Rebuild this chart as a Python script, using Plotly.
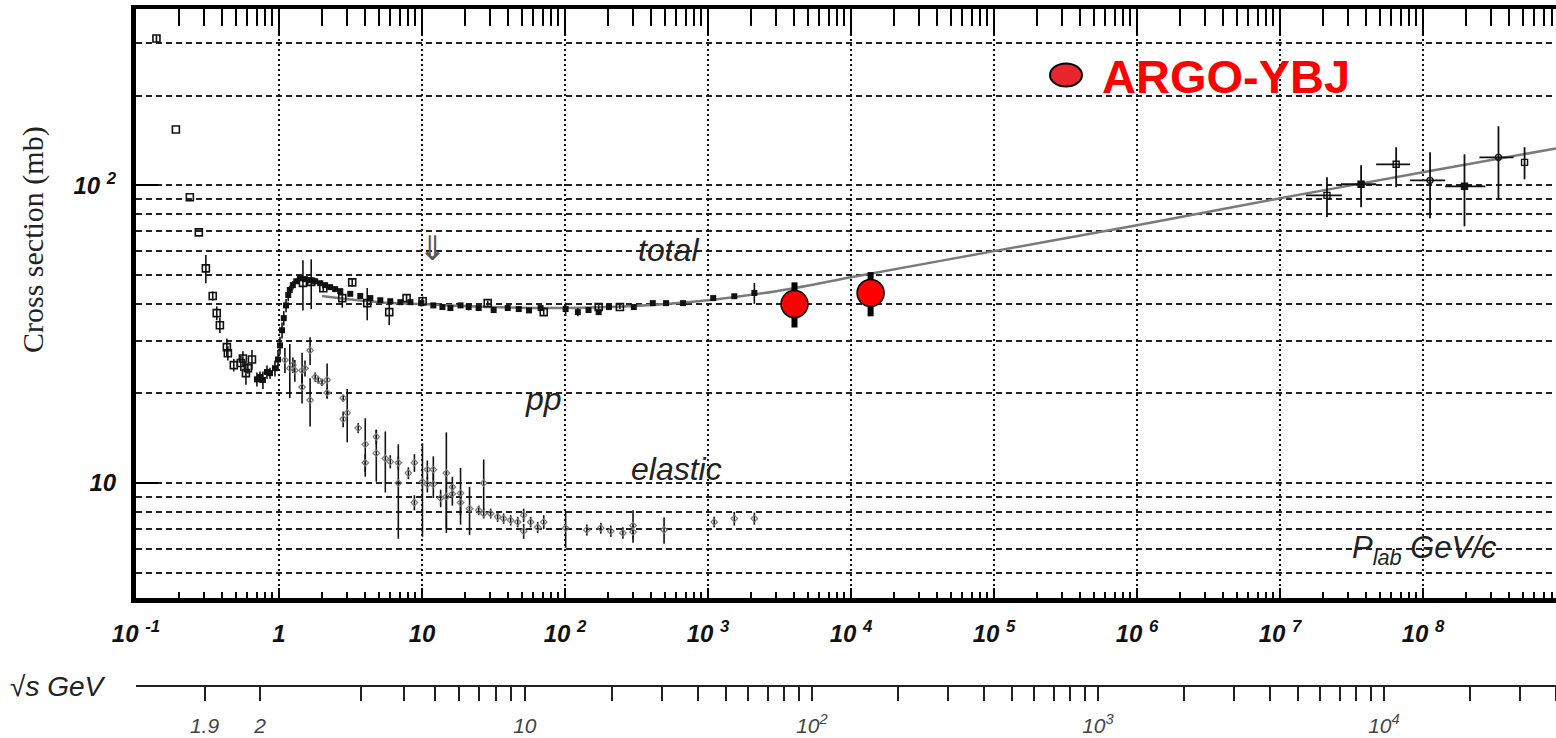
import math
import plotly.graph_objects as go

# ---------------- data ----------------
# total pp cross section (mb) vs p_lab (GeV/c) - open squares
tot_open_p = [0.139, 0.19, 0.238, 0.275, 0.308, 0.344, 0.367, 0.386, 0.432, 0.439, 0.483, 0.541, 0.559, 0.587, 0.606, 0.647,
              1.47, 1.68, 2.04, 2.77, 3.25, 4.14, 5.9, 7.8, 10.1, 28.8, 71.0, 172, 242]
tot_open_sig = [311, 154, 91.2, 69.5, 52.6, 42.5, 37.2, 33.9, 28.6, 27.3, 24.9, 25.3, 26.2, 23.4, 24.3, 26.0,
                47.0, 47.4, 45.1, 41.8, 47.2, 40.2, 37.5, 41.8, 40.8, 40.2, 37.5, 39.0, 39.0]
tot_open_err = [8, 0, 0, 0, 5.7, 1.5, 2, 2, 2, 1.5, 1.2, 1.5, 1.5, 2, 1, 2,
                9, 9, 1, 3, 1.5, 5, 3.6, 1, 1.5, 0.8, 0.8, 0.6, 0.6]

# total pp cross section - filled markers (dense band)
tot_p = [0.701, 0.736, 0.772, 0.824, 0.865, 0.937, 0.984, 1.016, 1.05, 1.08, 1.12, 1.16, 1.19, 1.25, 1.32, 1.40,
         1.52, 1.65, 1.79, 1.94, 2.10, 2.28, 2.47, 2.68, 3.15, 3.70, 4.35, 5.11, 6.0, 7.06, 8.3, 9.9,
         12.0, 13.9, 15.8, 18.6, 21.2, 24.9, 31.7, 39.8, 47.5, 56.0, 67.5, 101, 123, 146, 172, 203,
         303, 411, 509, 669, 1088, 1527, 2109]
tot_sig = [22.3, 22.7, 22.2, 23.6, 23.4, 24.3, 26.0, 29.0, 32.6, 35.8, 39.5, 42.8, 44.5, 46.2, 47.6, 48.7,
           48.4, 48.0, 47.6, 46.9, 46.2, 45.5, 44.8, 44.1, 43.2, 42.5, 41.8, 41.1, 40.8, 40.5, 40.5, 40.2,
           39.5, 39.0, 38.7, 39.5, 39.0, 38.7, 38.1, 38.7, 38.4, 38.0, 38.7, 38.4, 37.5, 38.1, 37.5, 39.0,
           39.0, 40.2, 40.2, 40.2, 41.8, 42.4, 43.5]
tot_err = [1.2, 1.0, 1.5, 1.2, 1.0, 1.5, 2.0, 2.0, 2.0, 2.0, 2.0, 2.0, 1.5, 1.5, 1.0, 1.0,
           1.0, 1.0, 0.8, 0.8, 0.8, 0.8, 0.8, 0.8, 0.6, 0.6, 0.6, 0.6, 0.6, 0.5, 0.5, 1.0,
           0.8, 0.8, 0.5, 0.8, 1.0, 0.5, 0.5, 0.5, 0.5, 0.5, 0.4, 2.0, 1.2, 0.8, 0.6, 0.6,
           0.5, 0.5, 0.5, 0.5, 0.6, 0.6, 3.5]

# fitted curve of the total cross section
fit_p = [2, 5, 10, 30, 100, 300, 1000, 3000, 1e4, 1e5, 1e6, 1e7, 1e8, 8.5e8]
fit_sig = [42.5, 40.5, 39.9, 39.0, 38.7, 39.3, 41.1, 44.1, 49.1, 60.1, 73.4, 90.4, 110.6, 133]

# cosmic-ray points (with momentum error bars)
cr_p = [2.13e7, 3.69e7, 6.49e7, 1.12e8, 1.95e8, 3.37e8, 5.13e8]
cr_sig = [92.5, 100.8, 117.6, 103.9, 99.2, 124.1, 119.4]
cr_sig_hi = [106.4, 116.7, 134.2, 129.1, 127.1, 157.8, 134.2]
cr_sig_lo = [78.2, 84.4, 98.5, 77.5, 72.8, 89.7, 104.7]
cr_p_lo = [1.52e7, 2.67e7, 4.70e7, 8.13e7, 1.43e8, 2.48e8, 5.13e8]
cr_p_hi = [2.71e7, 4.70e7, 8.13e7, 1.43e8, 2.73e8, 4.30e8, 5.13e8]
cr_symbols = ["square-open", "square", "square-open", "circle-open", "square", "circle-open", "square-open"]

# elastic pp cross section
el_p = [1.10, 1.19, 1.25, 1.29, 1.45, 1.45, 1.52, 1.65, 1.65, 1.79, 1.88, 2.00, 2.17, 2.17, 2.81, 2.81, 3.00,
        3.58, 4.01, 4.01, 4.79, 4.79, 5.54, 6.00, 6.83, 6.83, 8.03, 8.85, 8.85, 10.07, 10.9, 10.9, 12.0, 12.0,
        13.5, 14.8, 14.8, 16.3, 16.3, 18.6, 18.6, 21.5, 24.9, 27.0, 27.0, 30.2, 33.8, 37.2, 41.7, 46.7, 51.4,
        51.4, 57.5, 64.4, 71.0, 101, 142, 178, 209, 254, 299, 299, 493, 1104, 1527, 2109]
el_sig = [25.9, 24.3, 24.9, 23.9, 23.9, 21.0, 24.3, 27.9, 19.0, 22.7, 22.2, 21.8, 22.2, 20.1, 19.3, 16.4, 17.2,
          15.3, 13.5, 11.7, 14.3, 12.6, 12.1, 11.8, 11.7, 10.0, 10.8, 11.7, 8.6, 10.1, 11.1, 9.9, 11.1, 9.9,
          8.9, 10.8, 9.0, 9.7, 9.2, 9.25, 8.6, 8.2, 8.1, 10.0, 7.9, 7.9, 7.7, 7.6, 7.5, 7.4, 7.8,
          6.9, 7.4, 7.1, 7.4, 7.06, 6.96, 7.06, 6.90, 6.80, 6.85, 7.2, 6.96, 7.4, 7.6, 7.6]
el_err = [2.5, 5.0, 1.5, 2.0, 3.5, 2.5, 1.5, 3.0, 3.5, 0.8, 0.6, 0.6, 3.0, 0.8, 0.5, 1.0, 3.5,
          0.6, 3.0, 0.8, 0.8, 2.5, 2.8, 0.6, 0.6, 3.5, 0.5, 0.8, 0.5, 3.5, 0.8, 0.6, 1.2, 1.0,
          0.6, 4.0, 2.0, 0.8, 0.8, 2.0, 0.8, 1.5, 0.3, 2.0, 0.3, 0.3, 0.3, 0.3, 0.3, 0.3, 0.4,
          0.4, 0.3, 0.3, 0.4, 1.0, 0.3, 0.3, 0.3, 0.3, 0.35, 0.9, 0.7, 0.3, 0.4, 0.35]

# ARGO-YBJ points
argo_p = [4025, 13710]
argo_sig = [39.9, 43.5]
argo_hi = [47.2, 51.1]
argo_lo = [33.3, 36.3]

# axis ticks
x_major = [0.1, 1, 10, 100, 1e3, 1e4, 1e5, 1e6, 1e7, 1e8]
x_major_text = ["10 <sup>-1</sup>", "1", "10", "10 <sup>2</sup>", "10 <sup>3</sup>", "10 <sup>4</sup>",
                "10 <sup>5</sup>", "10 <sup>6</sup>", "10 <sup>7</sup>", "10 <sup>8</sup>"]
y_major = [10, 100]
y_major_text = ["10", "10 <sup>2</sup>"]
sqrt_s_ticks = [1.9, 2, 3, 4, 5, 6, 7, 8, 9, 10, 20, 30, 40, 50, 60, 70, 80, 90, 100,
                200, 300, 400, 500, 600, 700, 800, 900, 1000, 2000, 3000, 4000, 5000, 6000, 7000,
                8000, 9000, 10000, 20000, 30000, 40000]
sqrt_s_text = {1.9: "1.9", 2: "2", 10: "10", 100: "10<sup>2</sup>", 1000: "10<sup>3</sup>", 10000: "10<sup>4</sup>"}

# ---------------- helpers ----------------
M_P = 0.938272


def plab_from_sqrts(rs):
    s = rs * rs
    e = (s - 2 * M_P ** 2) / (2 * M_P)
    return math.sqrt(max(e * e - M_P ** 2, 1e-12))


W, H = 1556, 738
ML, MR, MT, MB = 136, 0, 9, 0
XR = [-1.0, 8.93]
YR = [0.614, 2.592]
PW = W - ML - MR
PH = H - MT - MB
y_dom0 = (H - 598) / PH
sq_pos = (H - 686) / PH

x_minor = [d * m for d in [0.1, 1, 10, 100, 1e3, 1e4, 1e5, 1e6, 1e7, 1e8] for m in range(2, 10)]
y_minor = [d * m for d in [1, 10, 100] for m in range(1, 10) if d * m not in (10, 100) and 4 <= d * m <= 400]

SANS = "Liberation Sans, Arial, sans-serif"
SERIF = "Liberation Serif, Times New Roman, serif"


def pap_x(px):
    return (px - ML) / PW


def pap_y(py):
    return (H - py) / PH


fig = go.Figure()

# fit curve
fig.add_trace(go.Scatter(x=fit_p, y=fit_sig, mode="lines", line=dict(color="#7a7a7a", width=2.5, shape="spline"),
                         hoverinfo="skip"))
# elastic
fig.add_trace(go.Scatter(x=el_p, y=el_sig, mode="markers",
                         marker=dict(symbol="diamond-open", size=5, color="#777", line=dict(width=1.2, color="#777")),
                         error_y=dict(type="data", array=el_err, color="#111", thickness=1.6, width=0)))
# total filled
fig.add_trace(go.Scatter(x=tot_p, y=tot_sig, mode="markers",
                         marker=dict(symbol="square", size=6, color="#111"),
                         error_y=dict(type="data", array=tot_err, color="#111", thickness=1.6, width=0)))
# total open
fig.add_trace(go.Scatter(x=tot_open_p, y=tot_open_sig, mode="markers",
                         marker=dict(symbol="square-open", size=7, color="#111", line=dict(width=1.6, color="#111")),
                         error_y=dict(type="data", array=tot_open_err, color="#111", thickness=1.6, width=0)))
# cosmic rays
fig.add_trace(go.Scatter(x=cr_p, y=cr_sig, mode="markers",
                         marker=dict(symbol=cr_symbols, size=6, color="#111", line=dict(width=1.4, color="#111")),
                         error_y=dict(type="data", symmetric=False,
                                      array=[h - s for h, s in zip(cr_sig_hi, cr_sig)],
                                      arrayminus=[s - l for s, l in zip(cr_sig, cr_sig_lo)],
                                      color="#111", thickness=1.8, width=0),
                         error_x=dict(type="data", symmetric=False,
                                      array=[h - p for h, p in zip(cr_p_hi, cr_p)],
                                      arrayminus=[p - l for p, l in zip(cr_p, cr_p_lo)],
                                      color="#111", thickness=1.8, width=0)))
# ARGO points: thick error bars + red markers
fig.add_trace(go.Scatter(x=argo_p, y=argo_sig, mode="markers",
                         marker=dict(symbol="circle", size=27, color="#ff0000", line=dict(color="black", width=1.5)),
                         error_y=dict(type="data", symmetric=False,
                                      array=[h - s for h, s in zip(argo_hi, argo_sig)],
                                      arrayminus=[s - l for s, l in zip(argo_sig, argo_lo)],
                                      color="black", thickness=6, width=0)))
# dummy traces for the extra axes
fig.add_trace(go.Scatter(x=[], y=[], xaxis="x2", yaxis="y", showlegend=False))
fig.add_trace(go.Scatter(x=[], y=[], xaxis="x3", yaxis="y", showlegend=False))

shapes = [
    # legend ellipse
    dict(type="circle", xref="paper", yref="paper", xsizemode="pixel", ysizemode="pixel",
         xanchor=pap_x(1066), yanchor=pap_y(75), x0=-16, x1=16, y0=-11.5, y1=11.5,
         fillcolor="#e8262c", line=dict(color="black", width=2)),
]


def label(text, px, py, size, family=SANS, color="#222", angle=0, xanchor="center"):
    return dict(text=text, x=pap_x(px), y=pap_y(py), xref="paper", yref="paper", xanchor=xanchor,
                yanchor="middle", textangle=angle, showarrow=False,
                font=dict(family=family, size=size, color=color))


annotations = [
    label("<b>ARGO-YBJ</b>", 1100, 77, 47, color="#ff0000", xanchor="left"),
    label("Cross section (mb)", 33, 240, 30, family=SERIF, angle=-90),
    label("<i>total</i>", 668, 250, 32),
    label("<i>pp</i>", 543, 399, 32),
    label("<i>elastic</i>", 676, 469, 32),
    label("<i>P<sub>lab</sub> GeV/c</i>", 1424, 550, 31),
    label("⇓", 432, 248, 34, family="DejaVu Sans", color="#555"),
    label("√<i>s GeV</i>", 8, 686, 28, xanchor="left"),
]

fig.update_layout(
    width=W, height=H, margin=dict(l=ML, r=MR, t=MT, b=MB, autoexpand=False),
    paper_bgcolor="white", plot_bgcolor="white", showlegend=False,
    shapes=shapes, annotations=annotations,
    xaxis=dict(type="log", range=XR, domain=[0, 1], anchor="y", side="bottom",
               tickmode="array", tickvals=x_major, ticktext=["<b><i>%s</i></b>" % t for t in x_major_text],
               ticks="inside", ticklen=10, tickwidth=2, tickcolor="black",
               tickfont=dict(family=SANS, size=24, color="#111"), ticklabelstandoff=10,
               showline=True, linecolor="black", linewidth=5, mirror=False,
               showgrid=True, gridcolor="#111", gridwidth=2, griddash="2px,3px",
               minor=dict(tickmode="array", tickvals=x_minor, ticks="inside", ticklen=6, tickwidth=1.5,
                          tickcolor="black", showgrid=False),
               zeroline=False, fixedrange=True),
    xaxis3=dict(type="log", range=XR, overlaying="x", anchor="y", side="top",
                tickmode="array", tickvals=x_major, showticklabels=False,
                ticks="inside", ticklen=26, tickwidth=2, tickcolor="black",
                showline=True, linecolor="black", linewidth=4, showgrid=False,
                minor=dict(tickmode="array", tickvals=x_minor, ticks="inside", ticklen=17, tickwidth=1.6,
                           tickcolor="black", showgrid=False),
                zeroline=False, fixedrange=True),
    xaxis2=dict(type="log", range=XR, overlaying="x", anchor="free", position=sq_pos, side="bottom",
                tickmode="array", tickvals=[plab_from_sqrts(v) for v in sqrt_s_ticks],
                ticktext=["<i>%s</i>" % sqrt_s_text[v] if v in sqrt_s_text else "" for v in sqrt_s_ticks],
                ticks="outside", ticklen=14, tickwidth=1.5, tickcolor="#222",
                tickfont=dict(family=SANS, size=21, color="#444"), ticklabelstandoff=7,
                showline=True, linecolor="#222", linewidth=1.5, showgrid=False, zeroline=False,
                fixedrange=True),
    yaxis=dict(type="log", range=YR, domain=[y_dom0, 1], anchor="x",
               tickmode="array", tickvals=y_major, ticktext=["<b><i>%s</i></b>" % t for t in y_major_text],
               ticks="inside", ticklen=22, tickwidth=2, tickcolor="black",
               tickfont=dict(family=SANS, size=24, color="#111"), ticklabelstandoff=10,
               showline=True, linecolor="black", linewidth=5, mirror=False,
               showgrid=True, gridcolor="#222", gridwidth=1.5, griddash="6px,4px",
               minor=dict(tickmode="array", tickvals=y_minor, ticks="", showgrid=True,
                          gridcolor="#222", gridwidth=1.5, griddash="6px,4px"),
               zeroline=False, fixedrange=True),
)

fig.write_html("out.html")
